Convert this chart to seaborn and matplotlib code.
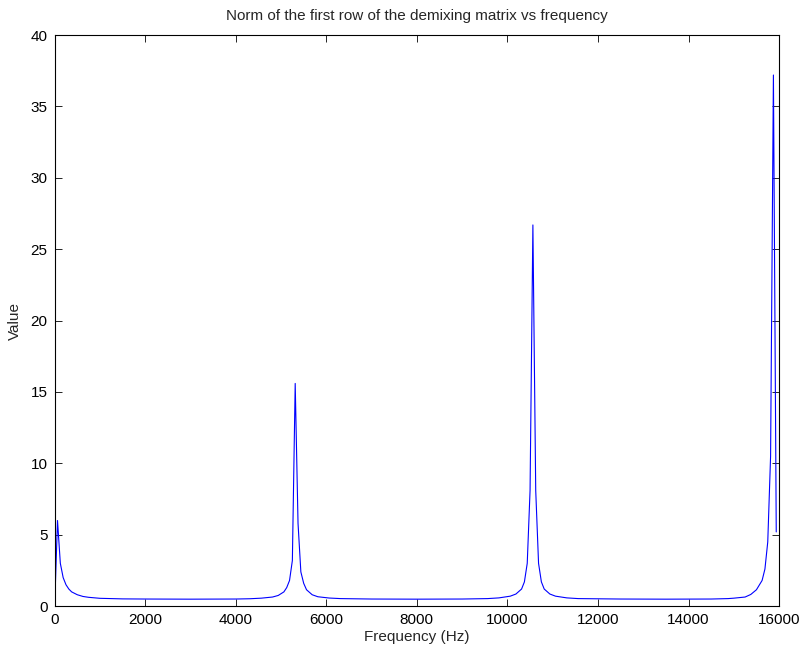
import matplotlib
matplotlib.use("Agg")
import matplotlib.pyplot as plt
import seaborn as sns
import pandas as pd

# Frequency bins (Hz) and norm of the first demixing-matrix row at each bin
freq_hz = [
    0, 62.5, 125, 187.5, 250, 312.5, 375, 500, 625, 750, 1000, 1500, 2000,
    3000, 4000, 4312.5, 4562.5, 4812.5, 4937.5, 5062.5, 5125, 5187.5, 5250,
    5312.5, 5375, 5437.5, 5500, 5562.5, 5687.5, 5812.5, 6062.5, 6312.5,
    7000, 8000, 9000, 9562.5, 9812.5, 10062.5, 10187.5, 10312.5, 10375,
    10437.5, 10500, 10562.5, 10625, 10687.5, 10750, 10812.5, 10937.5,
    11062.5, 11312.5, 11562.5, 12500, 13500, 14500, 14875, 15000, 15250,
    15375, 15500, 15625, 15687.5, 15750, 15812.5, 15875, 15937.5,
]
norm_value = [
    0.0, 6.0, 3.0, 2.0, 1.5, 1.2, 1.0, 0.8, 0.68, 0.62, 0.55, 0.51, 0.5,
    0.49, 0.5, 0.52, 0.56, 0.64, 0.75, 1.0, 1.3, 1.8, 3.2,
    15.6, 5.8, 2.4, 1.6, 1.15, 0.8, 0.66, 0.57, 0.53,
    0.5, 0.49, 0.5, 0.53, 0.58, 0.7, 0.85, 1.2, 1.7,
    3.0, 8.1, 26.7, 8.1, 3.0, 1.7, 1.2, 0.85,
    0.7, 0.58, 0.53, 0.5, 0.49, 0.5, 0.53, 0.56, 0.64,
    0.82, 1.15, 1.8, 2.6, 4.5, 10.5, 37.2, 5.2,
]

x_ticks = [0, 2000, 4000, 6000, 8000, 10000, 12000, 14000, 16000]
y_ticks = [0, 5, 10, 15, 20, 25, 30, 35, 40]

df = pd.DataFrame({"Frequency (Hz)": freq_hz, "Value": norm_value})

sns.set_style("ticks")
plt.rcParams["font.family"] = ["Liberation Sans", "DejaVu Sans"]
plt.rcParams["font.size"] = 11

fig, ax = plt.subplots(figsize=(8.04, 6.49), dpi=100)
fig.subplots_adjust(left=0.068, right=0.969, bottom=0.066, top=0.946)

sns.lineplot(data=df, x="Frequency (Hz)", y="Value", ax=ax,
             color=(0, 0, 1), linewidth=0.8, estimator=None, sort=False)

ax.set_xlim(0, 16000)
ax.set_ylim(0, 40)
ax.set_xticks(x_ticks)
ax.set_yticks(y_ticks)
ax.set_xticklabels([str(t) for t in x_ticks])
ax.set_yticklabels([str(t) for t in y_ticks])

for side in ["top", "right", "bottom", "left"]:
    ax.spines[side].set_visible(True)
    ax.spines[side].set_color("black")
    ax.spines[side].set_linewidth(0.8)

ax.tick_params(direction="in", length=5, width=0.6, top=True, right=True,
               labelsize=11, colors="black", pad=5)

ax.set_title("Norm of the first row of the demixing matrix vs frequency",
             fontsize=11, pad=11)
ax.set_xlabel("Frequency (Hz)", fontsize=11, labelpad=2)
ax.set_ylabel("Value", fontsize=11, labelpad=6)

fig.savefig("out.png", dpi=100)
